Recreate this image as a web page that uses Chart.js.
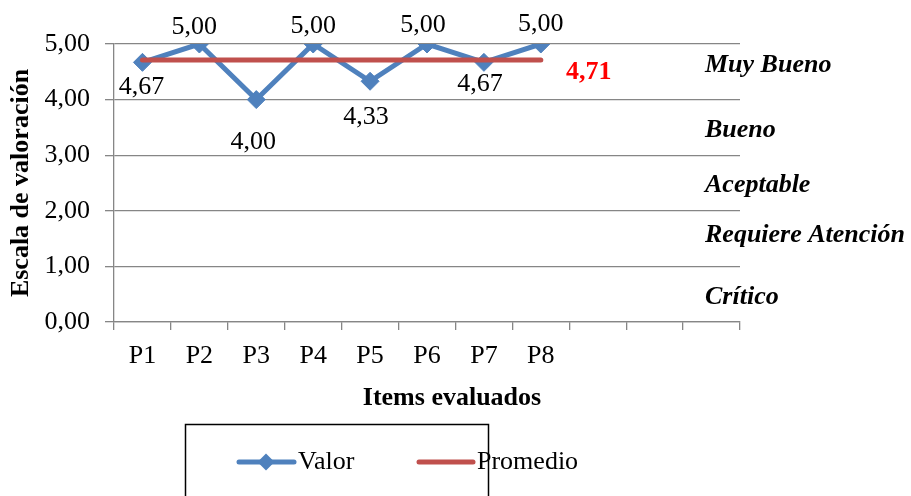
<!DOCTYPE html>
<html>
<head>
<meta charset="utf-8">
<script src="https://cdn.jsdelivr.net/npm/chart.js@4/dist/chart.umd.min.js"></script>
<style>
  html, body { margin: 0; padding: 0; background: #ffffff; }
  #wrap { width: 911px; height: 496px; position: relative; }
</style>
</head>
<body>
<div id="wrap"><canvas id="c" width="911" height="496"></canvas></div>
<script>
// Items (three empty slots keep the axis running past P8)
const categories = ['P1', 'P2', 'P3', 'P4', 'P5', 'P6', 'P7', 'P8', '', '', ''];
// Score per item
const valor = [4.67, 5.00, 4.00, 5.00, 4.33, 5.00, 4.67, 5.00];
// Average of all items, repeated across the evaluated items
const promedioValue = 4.71;
const promedio = [4.71, 4.71, 4.71, 4.71, 4.71, 4.71, 4.71, 4.71];
// Rating bands, top to bottom
const bands = ['Muy Bueno', 'Bueno', 'Aceptable', 'Requiere Atención', 'Crítico'];

const SERIF = '"Liberation Serif", "Times New Roman", serif';
const BLUE = '#4F81BD';
const RED = '#C0504D';
const GRID = '#868686';
const FS = 26;

const fmt = v => v.toFixed(2).replace('.', ',');

// Value labels, band names, axis title, average label and framed legend
const annotations = {
  id: 'annotations',
  afterDatasetsDraw(chart) {
    const ctx = chart.ctx;
    const y = chart.scales.y;
    const meta = chart.getDatasetMeta(0);
    const offs = [[-1, 25], [-5, -17], [-3, 43], [0, -18], [-4, 36], [-4, -19], [-4, 22], [0, -20]];
    ctx.save();
    ctx.fillStyle = '#000';
    ctx.font = FS + 'px ' + SERIF;
    ctx.textAlign = 'center';
    ctx.textBaseline = 'middle';
    meta.data.forEach((pt, i) => {
      const o = offs[i] || [0, -18];
      ctx.fillText(fmt(valor[i]), pt.x + o[0], pt.y + o[1]);
    });

    // average value label next to the end of the average line
    const pm = chart.getDatasetMeta(1).data;
    const last = pm[pm.length - 1];
    ctx.fillStyle = '#FF0000';
    ctx.font = 'bold ' + FS + 'px ' + SERIF;
    ctx.fillText(fmt(promedioValue), last.x + 48, last.y + 12);

    // band names to the right of the plot
    const levels = [4.62, 3.45, 2.46, 1.56, 0.45];
    ctx.fillStyle = '#000';
    ctx.font = 'italic bold ' + FS + 'px ' + SERIF;
    ctx.textAlign = 'left';
    bands.forEach((b, i) => ctx.fillText(b, 705, y.getPixelForValue(levels[i])));

    // x axis title
    ctx.font = 'bold ' + FS + 'px ' + SERIF;
    ctx.textAlign = 'center';
    ctx.fillText('Items evaluados', 452, 398);

    // legend frame
    ctx.strokeStyle = '#000';
    ctx.lineWidth = 1.5;
    ctx.strokeRect(185.5, 424.5, 303, 80);
    const ly = 462;
    ctx.lineCap = 'round';
    ctx.lineWidth = 5;
    ctx.strokeStyle = BLUE;
    ctx.beginPath(); ctx.moveTo(239, ly); ctx.lineTo(294, ly); ctx.stroke();
    ctx.fillStyle = BLUE;
    ctx.beginPath();
    ctx.moveTo(266, ly - 8.5); ctx.lineTo(274.5, ly); ctx.lineTo(266, ly + 8.5); ctx.lineTo(257.5, ly);
    ctx.closePath(); ctx.fill();
    ctx.strokeStyle = RED;
    ctx.beginPath(); ctx.moveTo(419, ly); ctx.lineTo(473, ly); ctx.stroke();
    ctx.fillStyle = '#000';
    ctx.font = FS + 'px ' + SERIF;
    ctx.textAlign = 'left';
    ctx.fillText('Valor', 298, ly);
    ctx.fillText('Promedio', 477, ly);
    ctx.restore();
  }
};

new Chart(document.getElementById('c'), {
  type: 'line',
  data: {
    labels: categories,
    datasets: [
      {
        label: 'Valor',
        data: valor,
        borderColor: BLUE,
        backgroundColor: BLUE,
        borderWidth: 5,
        pointStyle: 'rectRot',
        pointRadius: 9,
        pointBorderWidth: 1,
        pointBackgroundColor: BLUE,
        pointBorderColor: BLUE,
        tension: 0,
        order: 1
      },
      {
        label: 'Promedio',
        data: promedio,
        borderColor: RED,
        backgroundColor: RED,
        borderWidth: 5,
        borderCapStyle: 'round',
        pointRadius: 0,
        tension: 0,
        order: 0
      }
    ]
  },
  options: {
    responsive: false,
    animation: false,
    layout: { padding: { left: 0, top: 44, right: 171, bottom: 86 } },
    plugins: {
      legend: { display: false },
      tooltip: { enabled: false }
    },
    scales: {
      x: {
        type: 'category',
        offset: true,
        afterFit: s => { s.height = 88; },
        grid: { offset: true, drawOnChartArea: false, color: GRID, lineWidth: 1.3, tickLength: 8 },
        border: { color: GRID, width: 1.3 },
        ticks: { color: '#000', font: { family: SERIF, size: FS }, padding: 11, maxRotation: 0, autoSkip: false }
      },
      y: {
        min: 0,
        max: 5,
        afterFit: s => { s.width = 114; },
        grid: { color: GRID, lineWidth: 1.3, tickLength: 9 },
        border: { color: GRID, width: 1.3 },
        ticks: { stepSize: 1, color: '#000', font: { family: SERIF, size: FS }, padding: 15, callback: v => fmt(v) },
        title: {
          display: true,
          text: 'Escala de valoración',
          color: '#000',
          font: { family: SERIF, size: FS, weight: 'bold' },
          padding: { top: 6, bottom: 0 }
        }
      }
    }
  },
  plugins: [annotations]
});
</script>
</body>
</html>
